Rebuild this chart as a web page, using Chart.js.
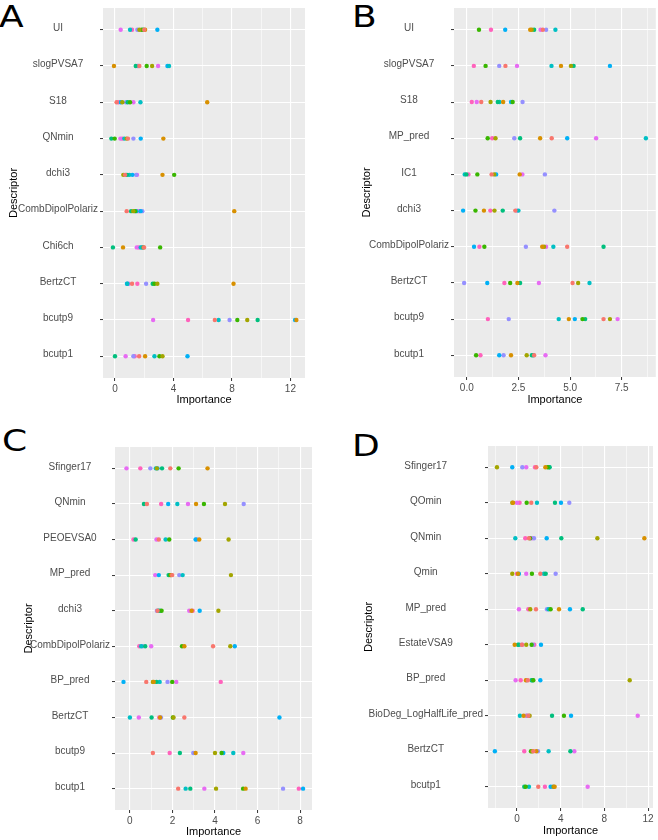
<!DOCTYPE html>
<html lang="en">
<head>
<meta charset="UTF-8" />
<title>Descriptor importance</title>
<script src="https://cdn.jsdelivr.net/npm/chart.js@4.4.0/dist/chart.umd.min.js"></script>
<style>
  body { margin: 0; background: #fff; width: 658px; height: 840px; position: relative; overflow: hidden; }
  canvas { position: absolute; }
  .tag { position: absolute; font-family: 'DejaVu Sans', sans-serif; font-size: 30px; line-height: 1; color: #000;
         transform: scaleX(1.2); transform-origin: left top; }
</style>
</head>
<body>

<div class="tag" style="left:-1px;top:2px">A</div>
<div class="tag" style="left:352px;top:2px">B</div>
<div class="tag" style="left:2px;top:426px">C</div>
<div class="tag" style="left:352px;top:431px">D</div>

<canvas id="chartA" width="330" height="410" style="left:0;top:0"></canvas>
<canvas id="chartB" width="328" height="410" style="left:330px;top:0"></canvas>
<canvas id="chartC" width="330" height="420" style="left:0;top:420px"></canvas>
<canvas id="chartD" width="328" height="420" style="left:330px;top:420px"></canvas>

<script>
// descriptors, top to bottom
const descA = ['UI', 'slogPVSA7', 'S18', 'QNmin', 'dchi3', 'CombDipolPolariz', 'Chi6ch', 'BertzCT', 'bcutp9', 'bcutp1'];
const descB = ['UI', 'slogPVSA7', 'S18', 'MP_pred', 'IC1', 'dchi3', 'CombDipolPolariz', 'BertzCT', 'bcutp9', 'bcutp1'];
const descC = ['Sfinger17', 'QNmin', 'PEOEVSA0', 'MP_pred', 'dchi3', 'CombDipolPolariz', 'BP_pred', 'BertzCT', 'bcutp9', 'bcutp1'];
const descD = ['Sfinger17', 'QOmin', 'QNmin', 'Qmin', 'MP_pred', 'EstateVSA9', 'BP_pred', 'BioDeg_LogHalfLife_pred', 'BertzCT', 'bcutp1'];

// one row per coloured series, one value per descriptor
const impA = [
  [2.0, 1.67, 0.11, 0.89, 0.69, 0.8, 1.99, 1.17, 6.83, 1.65],
  [2.06, -0.07, 6.31, 3.31, 3.25, 8.16, 0.55, 8.11, 12.41, 2.06],
  [1.67, 2.54, 0.5, 0.8, 0.57, 1.25, 1.95, 2.9, 9.05, 3.25],
  [1.83, 2.17, 1.03, -0.02, 4.05, 1.37, 3.09, 2.7, 8.37, 3.04],
  [1.94, 1.42, 0.87, -0.25, 0.82, 1.1, -0.14, 2.58, 9.76, 0.0],
  [1.03, 3.7, 1.74, 0.64, 0.98, 1.45, 1.76, 0.85, 7.09, 2.7],
  [2.9, 3.59, 0.39, 1.76, 1.19, 1.75, 1.85, 0.82, 12.32, 4.96],
  [1.53, 1.6, 0.75, 1.26, 1.45, 1.87, 1.9, 2.13, 7.84, 1.26],
  [0.39, 2.95, 1.26, 0.37, 1.51, 1.55, 1.49, 0.94, 2.61, 0.73],
  [1.17, 1.55, 0.23, 0.5, 0.75, 1.67, 1.62, 1.53, 5.0, 1.35]
];
const impB = [
  [3.68, 1.87, 0.7, 4.11, 1.2, 2.35, 4.86, 5.12, 6.62, 3.26],
  [3.07, 4.56, 1.76, 3.55, 2.56, 0.83, 3.65, 2.45, 4.94, 2.14],
  [3.15, 5.04, 1.15, 1.39, 1.33, 1.34, 3.74, 5.39, 6.93, 2.9],
  [0.59, 0.91, 2.22, 1.01, 0.51, 0.42, 0.85, 2.1, 5.6, 0.45],
  [3.26, 5.17, 1.5, 2.58, -0.02, 1.74, 6.62, 2.58, 5.73, 3.15],
  [4.29, 4.1, 1.58, 8.67, -0.1, 2.5, 4.19, 5.94, 4.45, 3.22],
  [1.86, 6.93, 2.14, 4.86, 1.42, -0.18, 0.35, 0.99, 5.23, 1.57],
  [3.84, 1.57, 2.7, 2.3, 3.78, 4.24, 2.86, -0.13, 2.03, 1.78],
  [3.57, 2.43, 0.48, 6.26, 2.69, 2.43, 3.84, 3.49, 7.3, 3.81],
  [1.17, 0.34, 0.24, 1.23, 0.08, 1.14, 0.61, 1.82, 1.02, 0.66]
];
const impC = [
  [1.9, 0.8, 1.36, 1.99, 1.3, 3.91, 0.77, 2.56, 1.08, 2.27],
  [3.65, 3.11, 3.26, 1.95, 2.9, 2.56, 1.12, 1.42, 3.09, 5.44],
  [1.27, 4.47, 4.64, 4.75, 4.16, 4.72, 1.08, 2.05, 4.0, 4.05],
  [2.29, 3.48, 1.85, 1.9, 1.49, 2.45, 1.99, 2.02, 4.31, 5.32],
  [1.51, 0.66, 0.27, 1.82, 1.35, 0.72, 1.25, 1.02, 2.35, 2.84],
  [1.22, 2.23, 1.68, 2.48, 1.42, 0.53, 1.4, 0.0, 4.86, 2.62],
  [1.3, 1.8, 3.09, 1.36, 3.28, 4.93, -0.3, 7.03, 4.39, 8.14],
  [0.96, 5.35, 3.15, 2.32, 1.27, 0.6, 1.77, 1.46, 2.98, 7.2],
  [-0.16, 2.73, 1.25, 1.19, 2.79, 1.0, 2.18, 0.42, 5.33, 3.5],
  [0.49, 1.47, 0.17, 1.88, 2.95, 0.44, 4.27, 1.38, 1.87, 7.94]
];
const impD = [
  [1.77, 1.31, 1.1, 2.14, 1.74, 0.45, 1.0, 1.04, 1.5, 1.95],
  [2.6, -0.35, 11.66, 0.1, 3.85, -0.21, 0.82, 0.61, 1.77, 3.45],
  [-1.83, -0.43, 7.36, -0.43, 1.22, 0.85, 10.32, 1.16, 1.4, 3.35],
  [2.81, 0.89, 1.2, 1.37, 3.08, 1.34, 1.5, 4.3, 1.28, 0.8],
  [2.99, 3.48, 4.06, 2.63, 6.02, 0.09, 1.34, 3.21, 4.89, 0.67],
  [2.95, 1.83, -0.15, 2.47, 2.9, 0.2, 1.42, 0.27, 2.9, 1.1],
  [-0.43, 4.03, 2.72, 0.18, 4.85, 2.2, 2.14, 4.95, -2.02, 3.08],
  [0.49, 4.79, 1.56, 3.54, 2.75, 1.45, 0.9, 0.95, 1.92, 3.27],
  [0.85, 0.0, 1.37, 0.85, 0.18, 0.49, -0.12, 11.05, 5.25, 6.47],
  [1.65, 0.24, 0.76, 0.0, 1.04, 1.59, 0.34, 0.85, 0.67, 2.56]
];

// x axis breaks
const majorA = [0, 4, 8, 12],        minorA = [2, 6, 10];
const majorB = [0, 2.5, 5, 7.5],     minorB = [1.25, 3.75, 6.25, 8.75];
const majorC = [0, 2, 4, 6, 8],      minorC = [1, 3, 5, 7];
const majorD = [0, 4, 8, 12],        minorD = [-2, 2, 6, 10];

// ggplot default hue palette, 10 levels
const hue = ['#F8766D', '#D89000', '#A3A500', '#39B600', '#00BF7D', '#00BFC4', '#00B0F6', '#9590FF', '#E76BF3', '#FF62BC'];

const greyPanel = {
  id: 'greyPanel',
  beforeDraw(chart) {
    const a = chart.chartArea, g = chart.ctx;
    g.save();
    g.fillStyle = '#EBEBEB';
    g.fillRect(a.left, a.top, a.right - a.left, a.bottom - a.top);
    g.restore();
  }
};

const tickFont = { family: "'Liberation Sans', Arial, sans-serif", size: 10 };
const titleFont = { family: "'Liberation Sans', Arial, sans-serif", size: 11 };

// box: canvas size + plot area edges (canvas coords) + title offsets
function makePanel(id, names, series, major, minor, xMin, xMax, fmt, box) {
  const isMajor = v => major.some(m => Math.abs(m - v) < 1e-9);
  return new Chart(document.getElementById(id), {
    type: 'scatter',
    data: {
      datasets: series.map((vals, k) => ({
        data: vals.map((v, i) => ({ x: v, y: i })),
        backgroundColor: hue[k],
        borderWidth: 0,
        pointRadius: 2.2,
        pointHoverRadius: 2.2
      }))
    },
    options: {
      responsive: false,
      animation: false,
      events: [],
      layout: { padding: { top: box.t, right: box.w - box.r, left: 0, bottom: 0 } },
      plugins: { legend: { display: false }, tooltip: { enabled: false } },
      scales: {
        x: {
          type: 'linear', min: xMin, max: xMax,
          afterBuildTicks: s => { s.ticks = major.concat(minor).sort((a, b) => a - b).map(v => ({ value: v })); },
          afterFit: s => { s.height = box.h - box.b; },
          border: { display: false },
          grid: {
            color: '#FFFFFF',
            lineWidth: ctx => isMajor(ctx.tick.value) ? 1.1 : 0.55,
            tickColor: ctx => isMajor(ctx.tick.value) ? '#333333' : 'rgba(0,0,0,0)',
            tickLength: 3, tickWidth: 1
          },
          ticks: {
            autoSkip: false, maxRotation: 0, padding: 2, color: '#4D4D4D', font: tickFont,
            callback: v => isMajor(v) ? fmt(v) : ''
          },
          title: { display: true, text: 'Importance', color: '#000', font: titleFont, padding: { top: 0, bottom: box.xt } }
        },
        y: {
          type: 'linear', reverse: true, min: -0.6, max: names.length - 0.4,
          afterBuildTicks: s => { s.ticks = names.map((_, i) => ({ value: i })); },
          afterFit: s => { s.width = box.l; },
          border: { display: false },
          grid: { color: '#FFFFFF', lineWidth: 1.1, tickColor: '#333333', tickLength: 3, tickWidth: 1 },
          ticks: {
            autoSkip: false, padding: 2, crossAlign: 'center', labelOffset: -1.5,
            color: '#4D4D4D', font: tickFont,
            callback: v => names[v]
          },
          title: { display: true, text: 'Descriptor', color: '#000', font: titleFont, padding: { top: box.yt - 6.6, bottom: 0 } }
        }
      }
    },
    plugins: [greyPanel]
  });
}

const intFmt = v => String(v);
const decFmt = v => v.toFixed(1);

makePanel('chartA', descA, impA, majorA, minorA, -0.82, 13.0, intFmt,
  { w: 330, h: 410, l: 103, t: 5, r: 305, b: 378, yt: 14, xt: 3 });
makePanel('chartB', descB, impB, majorB, minorB, -0.62, 9.15, decFmt,
  { w: 328, h: 410, l: 124, t: 4, r: 326, b: 377, yt: 37, xt: 3 });
makePanel('chartC', descC, impC, majorC, minorC, -0.7, 8.56, intFmt,
  { w: 330, h: 420, l: 115, t: 27, r: 312, b: 390, yt: 29, xt: 1.5 });
makePanel('chartD', descD, impD, majorD, minorD, -2.65, 12.45, intFmt,
  { w: 328, h: 420, l: 158, t: 26, r: 323, b: 388, yt: 39, xt: 2 });
</script>
</body>
</html>
